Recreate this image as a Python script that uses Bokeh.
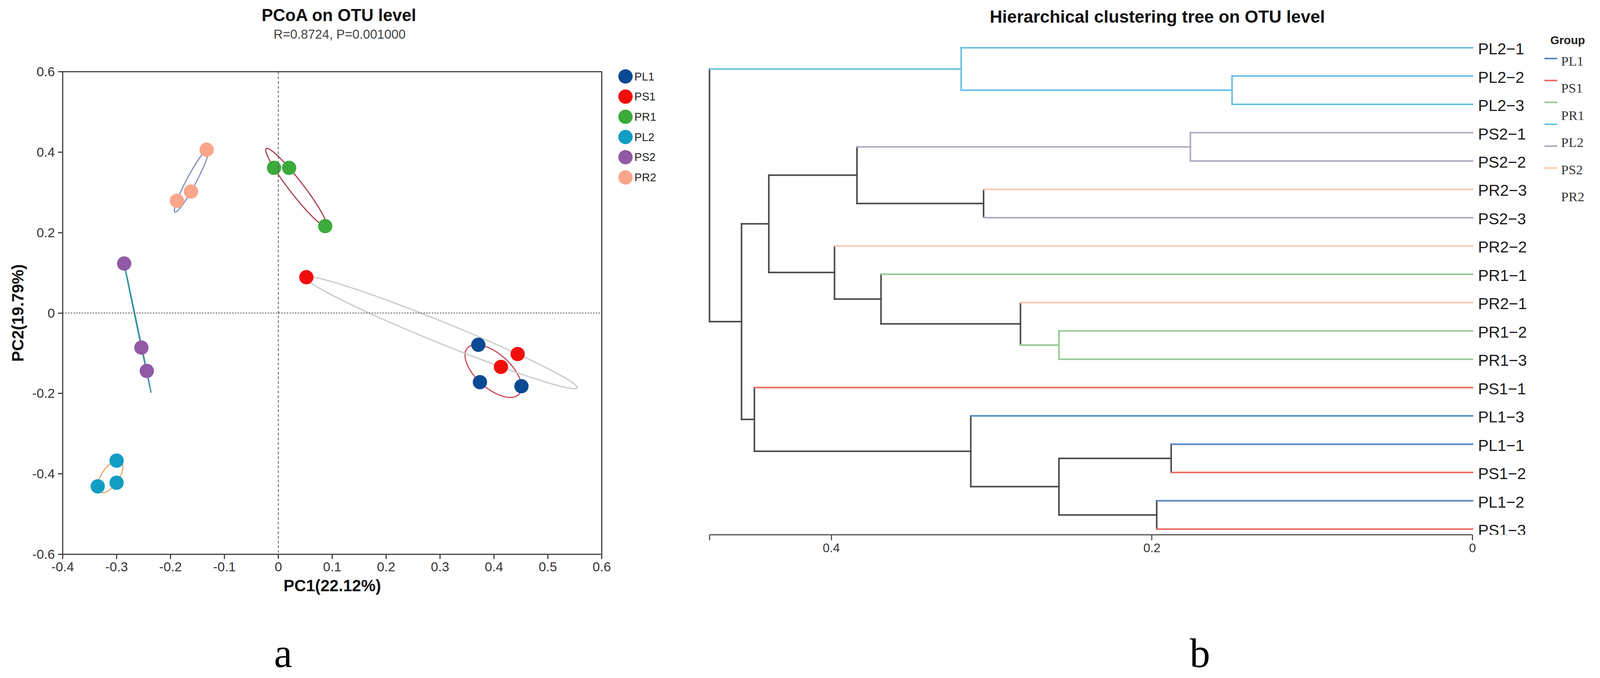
import numpy as np
from bokeh.plotting import figure
from bokeh.models import Range1d, FixedTicker, Span
from bokeh.layouts import row, column
from bokeh.embed import file_html
from bokeh.resources import INLINE
from bokeh.core.properties import value

# ---------------- PCoA data ----------------
groups = ["PL1", "PS1", "PR1", "PL2", "PS2", "PR2"]
point_colors = ["#0A4A94", "#F20D0D", "#3CAB3C", "#129DC3", "#9259A6", "#F9A68A"]
ellipse_colors = ["#CE4B5C", "#C8C8C8", "#A8444F", "#E2AA6A", "#3A95A3", "#7F8FB8"]

pl1_pc1 = [0.371, 0.374, 0.451]
pl1_pc2 = [-0.079, -0.172, -0.182]
ps1_pc1 = [0.052, 0.444, 0.413]
ps1_pc2 = [0.089, -0.102, -0.134]
pr1_pc1 = [-0.008, 0.020, 0.087]
pr1_pc2 = [0.361, 0.361, 0.216]
pl2_pc1 = [-0.300, -0.300, -0.335]
pl2_pc2 = [-0.367, -0.422, -0.431]
ps2_pc1 = [-0.286, -0.254, -0.244]
ps2_pc2 = [0.123, -0.086, -0.144]
pr2_pc1 = [-0.133, -0.162, -0.188]
pr2_pc2 = [0.406, 0.302, 0.279]

x_tick_values = [-0.4, -0.3, -0.2, -0.1, 0, 0.1, 0.2, 0.3, 0.4, 0.5, 0.6]
x_tick_labels = ["-0.4", "-0.3", "-0.2", "-0.1", "0", "0.1", "0.2", "0.3", "0.4", "0.5", "0.6"]
y_tick_values = [-0.6, -0.4, -0.2, 0, 0.2, 0.4, 0.6]
y_tick_labels = ["-0.6", "-0.4", "-0.2", "0", "0.2", "0.4", "0.6"]

# ---------------- clustering tree data ----------------
leaf_labels = ["PL2−1", "PL2−2", "PL2−3", "PS2−1", "PS2−2", "PR2−3", "PS2−3", "PR2−2", "PR1−1",
               "PR2−1", "PR1−2", "PR1−3", "PS1−1", "PL1−3", "PL1−1", "PS1−2", "PL1−2", "PS1−3"]
leaf_groups = ["PL2", "PL2", "PL2", "PS2", "PS2", "PR2", "PS2", "PR2", "PR1",
               "PR2", "PR1", "PR1", "PS1", "PL1", "PL1", "PS1", "PL1", "PS1"]
merge_left = [1, 0, 3, 5, 20, 10, 9, 8, 7, 22, 14, 16, 28, 13, 12, 27, 19]
merge_right = [2, 18, 4, 6, 21, 11, 23, 24, 25, 26, 15, 17, 29, 30, 31, 32, 33]
merge_height = [0.150, 0.319, 0.176, 0.305, 0.384, 0.258, 0.282, 0.369, 0.398,
                0.439, 0.188, 0.197, 0.258, 0.313, 0.448, 0.456, 0.476]
tree_groups = ["PL1", "PS1", "PR1", "PL2", "PS2", "PR2"]
tree_colors = ["#5088C0", "#EC6A5E", "#96C896", "#66BFE6", "#B3A8C2", "#F9C6B6"]
tree_ticks = [0, 0.2, 0.4]
tree_tick_labels = ["0", "0.2", "0.4"]

SANS = "Liberation Sans"
SERIF = "Liberation Serif"

# ---------------- geometry ----------------
# Positions below are in reference-picture pixels; K converts them to CSS px.
K = 0.99


def S(v):
    return int(round(v * K))


def fs(v):
    return f"{v * K:.1f}px"


PAGE_TOP, PAGE_BOTTOM = 8, 1739
A_LEFT, A_RIGHT = 8, 1600          # PCoA column
LEG_LEFT, LEG_RIGHT = 1600, 1808   # PCoA legend column
B_LEFT, B_RIGHT = 1808, 4148       # tree column
P1_FL, P1_FR, P1_FT, P1_FB = 170, 1564, 193, 1440   # PCoA frame
P1_TOP, P1_BOTTOM = 171, 1598
P2_FL, P2_FR, P2_FT, P2_FB = 1823, 4130, 95, 1390   # tree frame
P2_BOTTOM = 1500


def text_fig(fl, fr, left, right, y0, y1):
    # text-only strip whose frame has the same horizontal geometry as the plot it is stacked with
    f = figure(x_range=Range1d(fl, fr), y_range=Range1d(y1, y0),
               frame_width=S(fr) - S(fl), frame_height=S(y1) - S(y0),
               min_border_left=S(fl) - S(left), min_border_right=S(right) - S(fr),
               min_border_top=0, min_border_bottom=0,
               x_axis_location=None, y_axis_location=None,
               output_backend="svg", toolbar_location=None)
    f.outline_line_color = None
    f.grid.visible = False
    return f


def put_text(f, x, y, text, size, style="normal", font=SANS, color="#111111",
             align="center", baseline="middle"):
    f.text(x=[x], y=[y], text=[text], text_align=align, text_baseline=baseline,
           text_font=value(font), text_font_size=fs(size), text_font_style=style,
           text_color=color)


# ================= PCoA =================
p1 = figure(x_range=Range1d(-0.4, 0.6), y_range=Range1d(-0.6, 0.6),
            frame_width=S(P1_FR) - S(P1_FL), frame_height=S(P1_FB) - S(P1_FT),
            min_border_left=S(P1_FL) - S(A_LEFT), min_border_right=S(A_RIGHT) - S(P1_FR),
            min_border_top=S(P1_FT) - S(P1_TOP), min_border_bottom=S(P1_BOTTOM) - S(P1_FB),
            output_backend="svg", toolbar_location=None)
p1.grid.visible = False
p1.outline_line_color = "#444444"
p1.outline_line_width = 3

p1.xaxis.ticker = FixedTicker(ticks=x_tick_values)
p1.xaxis.major_label_overrides = dict(zip(x_tick_values, x_tick_labels))
p1.yaxis.ticker = FixedTicker(ticks=y_tick_values)
p1.yaxis.major_label_overrides = dict(zip(y_tick_values, y_tick_labels))
p1.xaxis.axis_label = "PC1(22.12%)"
p1.yaxis.axis_label = "PC2(19.79%)"
for ax in (p1.xaxis[0], p1.yaxis[0]):
    ax.axis_line_width = 3
    ax.axis_line_color = "#444444"
    ax.major_tick_line_width = 3
    ax.major_tick_line_color = "#444444"
    ax.major_tick_out = S(12)
    ax.major_tick_in = 0
    ax.minor_tick_line_color = None
    ax.major_label_text_font = SANS
    ax.major_label_text_font_size = fs(34)
    ax.major_label_text_color = "#333333"
    ax.major_label_standoff = S(8)
    ax.axis_label_text_font = SANS
    ax.axis_label_text_font_size = fs(42)
    ax.axis_label_text_font_style = "bold"
    ax.axis_label_text_color = "#111111"
    ax.axis_label_standoff = S(10)

p1.add_layout(Span(location=0, dimension="height", line_color="#555555",
                   line_dash="7 5", line_width=2))
p1.add_layout(Span(location=0, dimension="width", line_color="#666666",
                   line_dash="3 4", line_width=3))

pcs = [(pl1_pc1, pl1_pc2), (ps1_pc1, ps1_pc2), (pr1_pc1, pr1_pc2),
       (pl2_pc1, pl2_pc2), (ps2_pc1, ps2_pc2), (pr2_pc1, pr2_pc2)]


def circum_ellipse(xs, ys, npts=240):
    pts = np.column_stack([xs, ys])
    c = pts.mean(axis=0)
    Sg = np.cov(pts.T)
    w, V = np.linalg.eigh(Sg)
    w = np.clip(w, 0, None)
    d2 = (len(xs) - 1) * 2 / len(xs)   # Mahalanobis level passing through the 3 samples
    t = np.linspace(0, 2 * np.pi, npts)
    circ = np.vstack([np.cos(t), np.sin(t)])
    e = c[:, None] + V @ (np.sqrt(w * d2)[:, None] * circ)
    return e[0], e[1]


for (xs, ys), ec in zip(pcs, ellipse_colors):
    ex, ey = circum_ellipse(xs, ys)
    p1.line(ex, ey, line_color=ec, line_width=3)

for g, (xs, ys), pc in zip(groups, pcs, point_colors):
    p1.scatter(xs, ys, size=37 * K, fill_color=pc, line_color=None)

# titles / panel letter for PCoA
tA = text_fig(P1_FL, P1_FR, A_LEFT, A_RIGHT, PAGE_TOP, P1_TOP)
put_text(tA, 885, 47, "PCoA on OTU level", 44, "bold")
put_text(tA, 886, 96, "R=0.8724, P=0.001000", 33, color="#444444")
aF = text_fig(P1_FL, P1_FR, A_LEFT, A_RIGHT, P1_BOTTOM, PAGE_BOTTOM)
put_text(aF, 740, 1696, "a", 106, font=SERIF, color="#000000", baseline="alphabetic")

# legend column for PCoA
legF = figure(x_range=Range1d(LEG_LEFT, LEG_RIGHT), y_range=Range1d(PAGE_BOTTOM, PAGE_TOP),
              frame_width=S(LEG_RIGHT) - S(LEG_LEFT), frame_height=S(PAGE_BOTTOM) - S(PAGE_TOP),
              min_border=0, x_axis_location=None, y_axis_location=None,
              output_backend="svg", toolbar_location=None)
legF.outline_line_color = None
legF.grid.visible = False
LEG_CX, LEG_CY0, LEG_PITCH, LEG_TX = 1625, 205, 52.2, 1648
ng = len(groups)
legF.scatter([LEG_CX] * ng, [LEG_CY0 + i * LEG_PITCH for i in range(ng)], size=37 * K,
             fill_color=point_colors, line_color=None)
legF.text(x=[LEG_TX] * ng, y=[LEG_CY0 + i * LEG_PITCH for i in range(ng)], text=groups,
          text_align="left", text_baseline="middle", text_font=value(SANS),
          text_font_size=fs(29), text_color="#222222")

# ================= clustering tree =================
X0, PPU = 3815, 4145.0          # reference px of distance 0, px per unit distance
LEAF0, STEP = 131, 73.2          # reference px of first leaf, px between leaves


def tx(px):
    return (X0 - px) / PPU


def ty(py):
    return (py - LEAF0) / STEP


p2 = figure(x_range=Range1d(tx(P2_FL), tx(P2_FR)), y_range=Range1d(ty(P2_FB), ty(P2_FT)),
            frame_width=S(P2_FR) - S(P2_FL), frame_height=S(P2_FB) - S(P2_FT),
            min_border_left=S(P2_FL) - S(B_LEFT), min_border_right=S(B_RIGHT) - S(P2_FR),
            min_border_top=0, min_border_bottom=S(P2_BOTTOM) - S(P2_FB),
            y_axis_location=None, output_backend="svg", toolbar_location=None)
p2.grid.visible = False
p2.outline_line_color = None

n = len(leaf_labels)
node_y = [float(i) for i in range(n)]
node_h = [0.0] * n
node_g = [{g} for g in leaf_groups]
for l, r, h in zip(merge_left, merge_right, merge_height):
    node_y.append((node_y[l] + node_y[r]) / 2)
    node_h.append(h)
    node_g.append(node_g[l] | node_g[r])

gcol = dict(zip(tree_groups, tree_colors))
BLACK = "#4A4A4A"


def ncolor(k):
    return gcol[next(iter(node_g[k]))] if len(node_g[k]) == 1 else BLACK


sx0, sy0, sx1, sy1, sc = [], [], [], [], []
for j, (l, r) in enumerate(zip(merge_left, merge_right)):
    k = n + j
    sx0.append(node_h[k]); sx1.append(node_h[k]); sy0.append(node_y[l]); sy1.append(node_y[r]); sc.append(ncolor(k))
    for c in (l, r):
        sx0.append(node_h[k]); sx1.append(node_h[c]); sy0.append(node_y[c]); sy1.append(node_y[c]); sc.append(ncolor(c))
p2.segment(x0=sx0, y0=sy0, x1=sx1, y1=sy1, line_color=sc, line_width=4, line_cap="square")

p2.text(x=[0] * n, y=list(range(n)), text=leaf_labels, x_offset=S(14), y_offset=S(3),
        text_baseline="middle", text_align="left", text_font=value(SANS),
        text_font_size=fs(41), text_color="#1A1A1A")

root_h = merge_height[-1]
p2.xaxis.ticker = FixedTicker(ticks=tree_ticks + [root_h])
ov = dict(zip(tree_ticks, tree_tick_labels))
ov[root_h] = ""
p2.xaxis.major_label_overrides = ov
p2.xaxis.bounds = (0, root_h)
ax = p2.xaxis[0]
ax.axis_line_width = 3
ax.axis_line_color = "#555555"
ax.major_tick_line_width = 3
ax.major_tick_line_color = "#555555"
ax.major_tick_out = S(14)
ax.major_tick_in = 0
ax.minor_tick_line_color = None
ax.major_label_text_font = SANS
ax.major_label_text_font_size = fs(32)
ax.major_label_text_color = "#333333"
ax.major_label_standoff = S(8)

# group legend (lines and labels mis-registered as in the original)
p2.text(x=[tx(4016)], y=[ty(111)], text=["Group"], text_baseline="middle", text_align="left",
        text_font=value(SANS), text_font_size=fs(30), text_font_style="bold", text_color="#222222")
LL_X0, LL_X1, LL_Y0, LL_STEP = 4001, 4034, 159, 56.6
LT_X, LT_Y0, LT_STEP = 4044, 165, 70.2
m = len(tree_groups)
p2.segment(x0=[tx(LL_X0)] * m, x1=[tx(LL_X1)] * m,
           y0=[ty(LL_Y0 + i * LL_STEP) for i in range(m)],
           y1=[ty(LL_Y0 + i * LL_STEP) for i in range(m)],
           line_color=tree_colors, line_width=4)
p2.text(x=[tx(LT_X)] * m, y=[ty(LT_Y0 + i * LT_STEP) for i in range(m)], text=tree_groups,
        text_baseline="middle", text_align="left", text_font=value(SERIF),
        text_font_size=fs(35), text_color="#333333")

tB = text_fig(P2_FL, P2_FR, B_LEFT, B_RIGHT, PAGE_TOP, P2_FT)
put_text(tB, 3000, 50, "Hierarchical clustering tree on OTU level", 45, "bold")
bF = text_fig(P2_FL, P2_FR, B_LEFT, B_RIGHT, P2_BOTTOM, PAGE_BOTTOM)
put_text(bF, 3110, 1696, "b", 106, font=SERIF, color="#000000", baseline="alphabetic")

layout = row(column(tA, p1, aF), legF, column(tB, p2, bF))
open("out.html", "w").write(file_html(layout, INLINE))
